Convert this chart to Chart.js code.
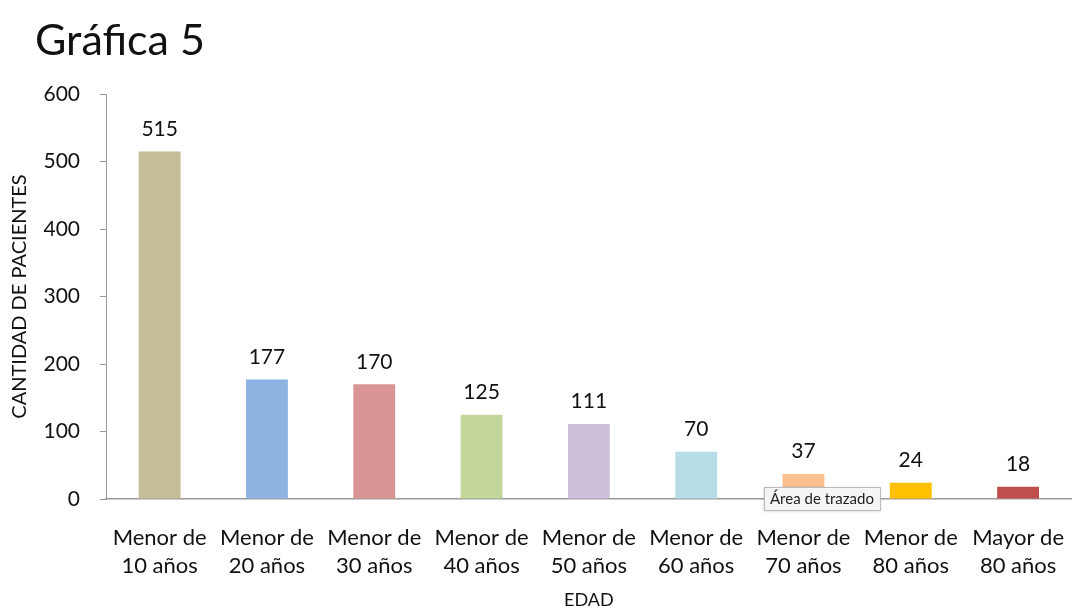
<!DOCTYPE html>
<html>
<head>
<meta charset="utf-8">
<script src="https://cdn.jsdelivr.net/npm/chart.js@4.4.0/dist/chart.umd.min.js"></script>
<style>
    html, body { margin: 0; padding: 0; background: #fff; }
    #wrap { position: relative; width: 1081px; height: 611px; }
</style>
</head>
<body>
<div id="wrap"><canvas id="edadChart"></canvas></div>
<script>
const categories = [
    ['Menor de', '10 años'], ['Menor de', '20 años'], ['Menor de', '30 años'],
    ['Menor de', '40 años'], ['Menor de', '50 años'], ['Menor de', '60 años'],
    ['Menor de', '70 años'], ['Menor de', '80 años'], ['Mayor de', '80 años']
];
const pacientes = [515, 177, 170, 125, 111, 70, 37, 24, 18];
const barColors = ['#c4bd97', '#8db3e2', '#d99594', '#c3d69b', '#ccc0da',
                   '#b7dde8', '#fac090', '#ffc000', '#c0504d'];
const yTicks = [0, 100, 200, 300, 400, 500, 600];

const fontFamily = 'Lato, "Open Sans", sans-serif';

// title drawn by hand so it can sit a bit right of the axis title
const chartTitle = {
    id: 'chartTitle',
    afterDraw(chart) {
        const ctx = chart.ctx;
        ctx.save();
        ctx.font = '43px ' + fontFamily;
        ctx.fillStyle = '#111';
        ctx.textAlign = 'left';
        ctx.textBaseline = 'alphabetic';
        ctx.fillText('Gráfica 5', 35, 55);
        ctx.restore();
    }
};

// numbers above bars + the "Área de trazado" hint box from the screenshot
const valueLabels = {
    id: 'valueLabels',
    afterDatasetsDraw(chart) {
        const ctx = chart.ctx;
        const meta = chart.getDatasetMeta(0);
        ctx.save();
        ctx.font = '21px ' + fontFamily;
        ctx.fillStyle = '#111';
        ctx.textAlign = 'center';
        ctx.textBaseline = 'bottom';
        meta.data.forEach((bar, i) => {
            ctx.fillText(pacientes[i], bar.x, bar.y - 12);
        });

        const bar7 = meta.data[6];
        const y0 = chart.scales.y.getPixelForValue(0);
        ctx.font = '15px ' + fontFamily;
        const txt = 'Área de trazado';
        const w = ctx.measureText(txt).width + 12;
        const bx = Math.round(bar7.x - 39), by = Math.round(y0 - 12);
        ctx.shadowColor = 'rgba(0,0,0,0.2)';
        ctx.shadowBlur = 3;
        ctx.shadowOffsetY = 1;
        ctx.fillStyle = '#f5f5f5';
        ctx.fillRect(bx, by, w, 23);
        ctx.shadowColor = 'transparent';
        ctx.strokeStyle = '#bbb';
        ctx.lineWidth = 1;
        ctx.strokeRect(bx + 0.5, by + 0.5, w, 23);
        ctx.fillStyle = '#222';
        ctx.textAlign = 'left';
        ctx.textBaseline = 'middle';
        ctx.fillText(txt, bx + 6, by + 12);
        ctx.restore();
    }
};

new Chart(document.getElementById('edadChart'), {
    type: 'bar',
    data: {
        labels: categories,
        datasets: [{
            data: pacientes,
            backgroundColor: barColors,
            barPercentage: 0.39,
            categoryPercentage: 1.0
        }]
    },
    options: {
        responsive: true,
        maintainAspectRatio: false,
        animation: false,
        layout: { padding: { left: 8, right: 0, top: 94, bottom: 0 } },
        plugins: {
            legend: { display: false },
            tooltip: { enabled: false },
            title: { display: false }
        },
        scales: {
            x: {
                afterFit(scale) { scale.height = 112; },
                grid: { display: false },
                border: { color: '#999', width: 1.5 },
                ticks: {
                    color: '#111',
                    font: { family: fontFamily, size: 22, lineHeight: 1.28 },
                    maxRotation: 0,
                    autoSkip: false,
                    padding: 17
                },
                title: {
                    display: true,
                    text: 'EDAD',
                    color: '#111',
                    font: { family: fontFamily, size: 18 },
                    padding: { top: 0, bottom: 0 }
                }
            },
            y: {
                min: 0,
                max: 600,
                afterFit(scale) { scale.width = 98; },
                afterBuildTicks(scale) {
                    scale.ticks = yTicks.map(v => ({ value: v }));
                },
                grid: {
                    drawOnChartArea: false,
                    drawTicks: true,
                    tickLength: 6,
                    color: '#999'
                },
                border: { color: '#999', width: 1 },
                ticks: {
                    color: '#111',
                    font: { family: fontFamily, size: 21 },
                    padding: 20
                },
                title: {
                    display: true,
                    text: 'CANTIDAD DE PACIENTES',
                    color: '#111',
                    font: { family: fontFamily, size: 20 },
                    padding: { top: 0, bottom: 0 }
                }
            }
        }
    },
    plugins: [valueLabels, chartTitle]
});
</script>
</body>
</html>
